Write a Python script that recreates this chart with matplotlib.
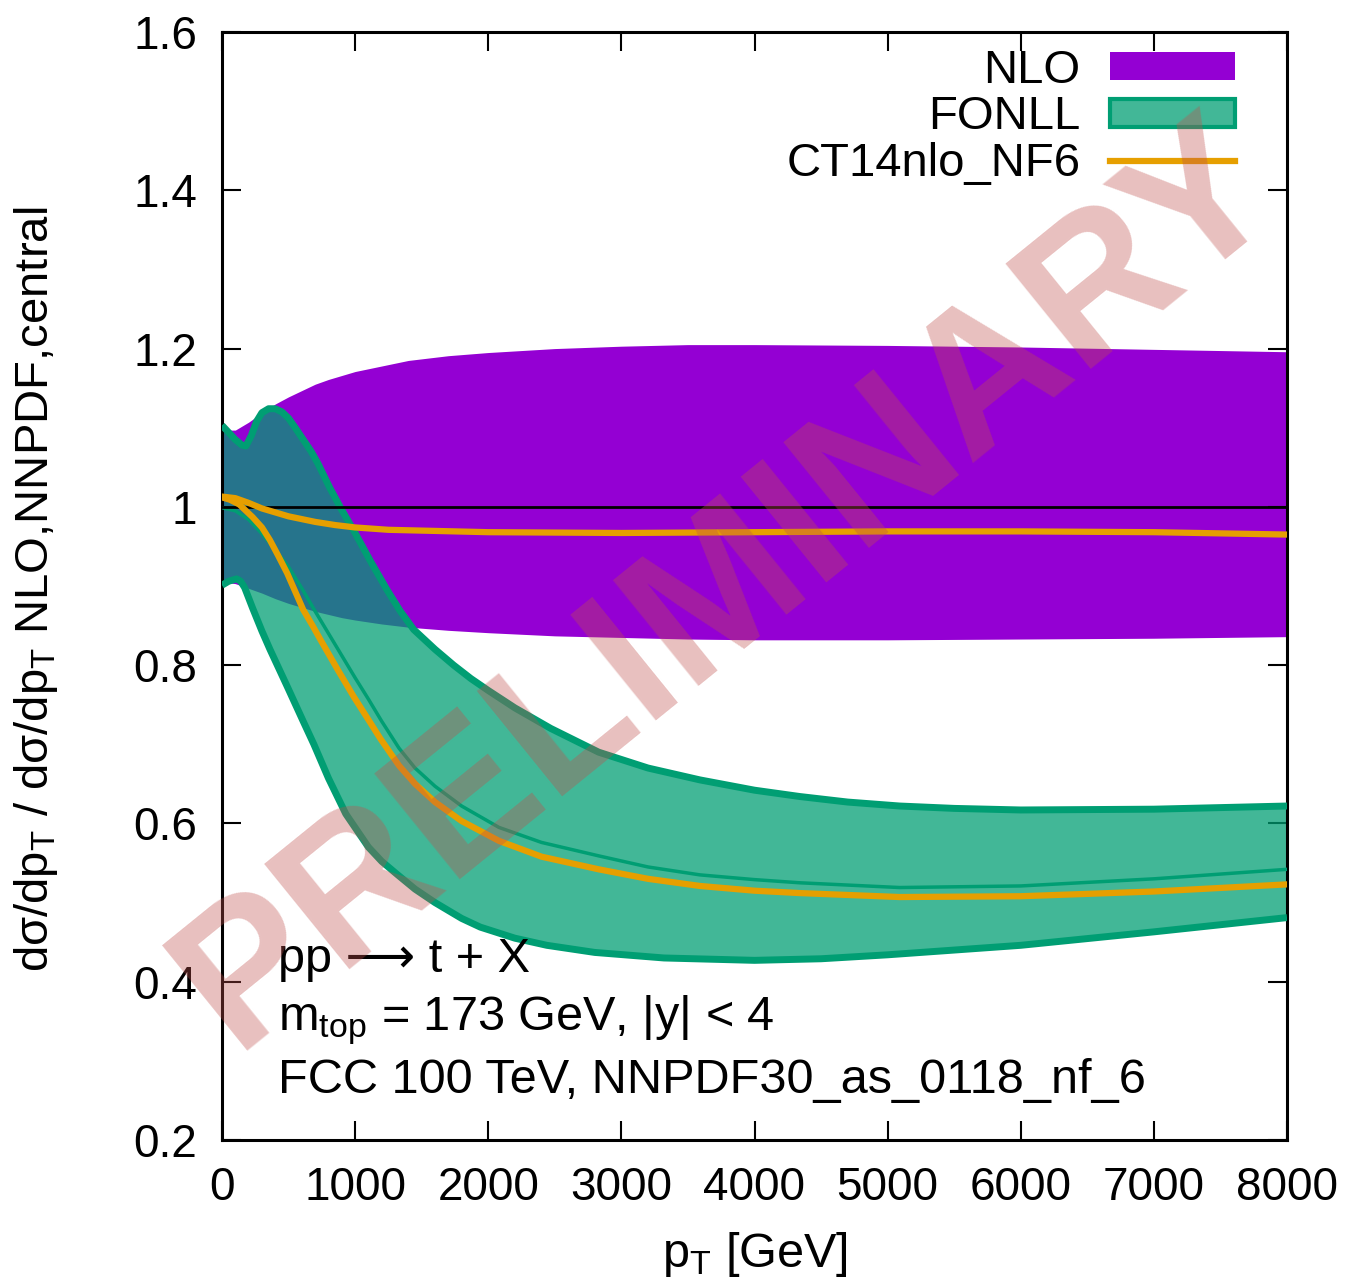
import numpy as np
import matplotlib
matplotlib.use("Agg")
import matplotlib.pyplot as plt
from matplotlib.patches import Patch
from matplotlib.lines import Line2D

plt.rcParams['font.family'] = ['Liberation Sans', 'DejaVu Sans']
plt.rcParams['mathtext.fontset'] = 'custom'
plt.rcParams['mathtext.rm'] = 'Liberation Sans'
plt.rcParams['mathtext.it'] = 'Liberation Sans:italic'

# NLO band (ratio to NLO NNPDF central)
pt_nlo = [0, 50, 100, 200, 300, 400, 500, 600, 700, 800, 900, 1000, 1200, 1400, 1700,
          2000, 2500, 3000, 3500, 4000, 5000, 6000, 7000, 8000]
nlo_hi = [1.103, 1.097, 1.097, 1.107, 1.119, 1.130, 1.139, 1.147, 1.155, 1.161, 1.166,
          1.171, 1.178, 1.185, 1.191, 1.195, 1.200, 1.203, 1.205, 1.205, 1.204, 1.202,
          1.199, 1.196]
nlo_lo = [0.905, 0.904, 0.903, 0.897, 0.891, 0.884, 0.878, 0.873, 0.868, 0.864, 0.860,
          0.857, 0.852, 0.848, 0.844, 0.841, 0.837, 0.835, 0.833, 0.832, 0.832, 0.833,
          0.834, 0.836]

# FONLL band
pt_fonll_hi = [0, 50, 100, 150, 180, 220, 260, 300, 350, 400, 450, 500, 550, 610, 670,
               720, 810, 900, 990, 1120, 1240, 1340, 1440, 1600, 1740, 1870, 2000, 2200,
               2470, 2830, 3200, 3590, 4000, 4340, 4700, 5090, 5500, 6000, 7000, 8000]
fonll_hi = [1.103, 1.094, 1.085, 1.078, 1.077, 1.090, 1.108, 1.119, 1.124, 1.124, 1.120,
            1.112, 1.100, 1.085, 1.070, 1.055, 1.024, 0.996, 0.970, 0.930, 0.895, 0.868,
            0.845, 0.820, 0.800, 0.783, 0.768, 0.746, 0.720, 0.690, 0.670, 0.655, 0.642,
            0.634, 0.627, 0.622, 0.619, 0.617, 0.618, 0.622]
pt_fonll_lo = [0, 50, 110, 140, 170, 230, 300, 360, 490, 610, 690, 800, 930, 1100, 1200,
               1320, 1450, 1600, 1800, 1940, 2200, 2440, 2800, 3320, 4000, 4500, 5000,
               6000, 7000, 8000]
fonll_lo = [0.901, 0.906, 0.909, 0.906, 0.898, 0.872, 0.843, 0.820, 0.773, 0.729, 0.700,
            0.657, 0.612, 0.570, 0.552, 0.535, 0.517, 0.500, 0.480, 0.469, 0.455, 0.446,
            0.437, 0.430, 0.427, 0.429, 0.434, 0.446, 0.463, 0.481]
pt_fonll_c = [0, 100, 200, 300, 400, 500, 600, 700, 800, 900, 1000, 1100, 1200, 1330,
              1450, 1600, 1800, 2080, 2400, 2830, 3200, 3590, 4000, 4340, 5090, 6000,
              7000, 8000]
fonll_c = [0.999, 0.995, 0.984, 0.966, 0.946, 0.924, 0.897, 0.868, 0.840, 0.812, 0.784,
           0.757, 0.729, 0.695, 0.670, 0.647, 0.622, 0.595, 0.576, 0.559, 0.545, 0.535,
           0.529, 0.525, 0.519, 0.521, 0.530, 0.542]

# CT14nlo_NF6 ratios
pt_ct_nlo = [0, 100, 200, 300, 400, 500, 700, 850, 1000, 1250, 1500, 2000, 3000, 4000,
             5000, 6000, 7000, 8000]
ct_nlo = [1.013, 1.011, 1.005, 0.998, 0.993, 0.988, 0.981, 0.977, 0.974, 0.971, 0.970,
          0.968, 0.967, 0.968, 0.969, 0.969, 0.968, 0.965]
pt_ct_fonll = [0, 60, 130, 230, 300, 360, 420, 490, 550, 610, 680, 740, 870, 990, 1115,
               1190, 1330, 1450, 1600, 1800, 2080, 2400, 2830, 3200, 3590, 4000, 4340,
               5090, 6000, 7000, 8000]
ct_fonll = [1.012, 1.009, 1.003, 0.987, 0.974, 0.958, 0.939, 0.916, 0.893, 0.870, 0.850,
            0.832, 0.794, 0.760, 0.727, 0.707, 0.673, 0.650, 0.627, 0.603, 0.578, 0.558,
            0.542, 0.530, 0.521, 0.515, 0.512, 0.507, 0.508, 0.514, 0.523]

purple = '#9400D3'
green = '#009E73'
orange = '#E69F00'
fs = 34

fig = plt.figure(figsize=(13.47, 12.79), dpi=100)
ax = fig.add_axes([222/1347, 1-1140/1279, (1287-222)/1347, (1140-32)/1279])

ax.fill_between(pt_nlo, nlo_lo, nlo_hi, color=purple, lw=0, zorder=1)
# FONLL band polygon (upper and lower edges read at different pT)
poly_x = list(pt_fonll_hi) + list(pt_fonll_lo[::-1])
poly_y = list(fonll_hi) + list(fonll_lo[::-1])
ax.fill(poly_x, poly_y, color=green, alpha=0.74, lw=0, zorder=2)
ax.plot(pt_fonll_hi, fonll_hi, color=green, lw=5, zorder=3, solid_capstyle='butt')
ax.plot(pt_fonll_lo, fonll_lo, color=green, lw=5, zorder=3, solid_capstyle='butt')
ax.plot(pt_fonll_c, fonll_c, color=green, lw=2.5, zorder=3)
ax.axhline(1.0, color='black', lw=2, zorder=4)
ax.plot(pt_ct_nlo, ct_nlo, color=orange, lw=4.5, zorder=5)
ax.plot(pt_ct_fonll, ct_fonll, color=orange, lw=4.5, zorder=5)

ax.set_xlim(0, 8000)
ax.set_ylim(0.2, 1.6)
ax.set_xticks(np.arange(0, 8001, 1000))
ax.set_yticks([0.2, 0.4, 0.6, 0.8, 1.0, 1.2, 1.4, 1.6])
ax.set_yticklabels(['0.2', '0.4', '0.6', '0.8', '1', '1.2', '1.4', '1.6'])
ax.tick_params(direction='in', length=14, width=1.5, top=True, right=True,
               labelsize=fs - 1, pad=18)
ax.tick_params(axis='x', pad=19)
for s in ax.spines.values():
    s.set_linewidth(2.2)

ax.set_xlabel(r'p$_{\rm T}$ [GeV]', fontsize=fs + 1, labelpad=14)
ax.set_ylabel(r'dσ/dp$_{\rm T}$ / dσ/dp$_{\rm T}$ NLO,NNPDF,central', fontsize=fs)
ax.yaxis.set_label_coords(-0.152, 0.497)

handles = [Patch(facecolor=purple, edgecolor='none'),
           Patch(facecolor=(0, 0.62, 0.45, 0.74), edgecolor=green, lw=3),
           Line2D([], [], color=orange, lw=4.5)]
labels = ['NLO', 'FONLL', 'CT14nlo_NF6']
ax.legend(handles, labels, loc='upper right', bbox_to_anchor=(0.951, 0.985),
          frameon=False, markerfirst=False, fontsize=fs, handlelength=2.65,
          handleheight=0.55, handletextpad=0.62, labelspacing=0.06, borderpad=0,
          borderaxespad=0)

ax.text(0.053, 0.1516, 'pp ⟶ t + X', transform=ax.transAxes, fontsize=fs + 1,
        va='baseline', zorder=6)
ax.text(0.053, 0.0993, r'm$_{\rm top}$ = 173 GeV, |y| < 4', transform=ax.transAxes,
        fontsize=fs + 1, va='baseline', zorder=6)
ax.text(0.053, 0.0424, 'FCC 100 TeV, NNPDF30_as_0118_nf_6', transform=ax.transAxes,
        fontsize=fs + 1, va='baseline', zorder=6)

fig.text(728/1347, 1-585/1279, 'PRELIMINARY', fontsize=142, fontweight='bold',
         color='#c0504d', alpha=0.36, rotation=39, ha='center', va='center',
         rotation_mode='anchor', zorder=10)

fig.savefig('out.png', dpi=100)
